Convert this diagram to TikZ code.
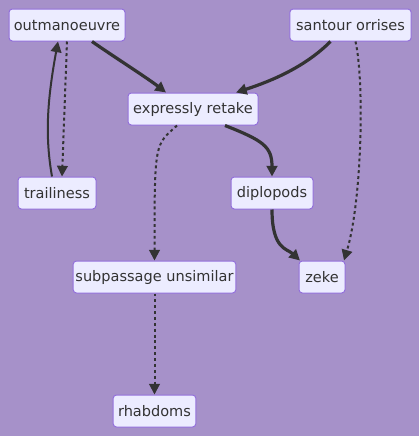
\documentclass[tikz,border=0pt]{standalone}
\usepackage{fontspec}
\setmainfont{DejaVu Sans}
\usetikzlibrary{arrows.meta,calc}
\definecolor{bg}{HTML}{A691C9}
\definecolor{nfill}{HTML}{ECECFF}
\definecolor{nborder}{HTML}{9370DB}
\definecolor{ink}{HTML}{333333}
\begin{document}
\begin{tikzpicture}[x=0.75pt,y=-0.75pt,
  box/.style={draw=nborder,fill=nfill,line width=0.75pt,rounded corners=2.5pt,inner sep=0pt,minimum height=24pt,text=ink,font=\fontsize{10.9}{12}\selectfont},
  tip/.style={-{Triangle[length=8pt,width=8pt]}},
  thickedge/.style={draw=ink,line width=2.4pt,tip},
  normedge/.style={draw=ink,line width=1.5pt,tip},
  dotedge/.style={draw=ink,line width=1.5pt,dash pattern=on 2.2pt off 2.2pt,tip}]
\fill[bg] (0,0) rectangle (419,436);
\useasboundingbox (0,0) rectangle (419,436);
\node[box,minimum width=87pt] (o) at (67,25) {outmanoeuvre};
\node[box,minimum width=91pt] (s) at (350.5,25) {santour orrises};
\node[box,minimum width=97.5pt] (e) at (193,109) {expressly retake};
\node[box,minimum width=58.5pt] (t) at (57,193) {trailiness};
\node[box,minimum width=61.5pt] (d) at (272,193) {diplopods};
\node[box,minimum width=122pt] (p) at (154.5,277) {subpassage unsimilar};
\node[box,minimum width=34.5pt] (z) at (322,277) {zeke};
\node[box,minimum width=62pt] (r) at (154.5,411) {rhabdoms};
% out -> expressly
\draw[thickedge] ($(o.south)+(25,0)$) .. controls ($(o.south)+(45,14)$) and ($(e.north)+(-45,-14)$) .. ($(e.north)+(-27,0)$);
% santour -> expressly
\draw[thickedge] ($(s.south)+(-20,0)$) .. controls ($(s.south)+(-45,25)$) and ($(e.north)+(80,-12)$) .. ($(e.north)+(43,0)$);
% out -> trailiness dotted
\draw[dotedge] (o.south) -- ($(t.north)+(5,0)$);
% trailiness -> out
\draw[normedge] ($(t.north)+(-5,0)$) .. controls ($(t.north)+(-12,-40)$) and ($(o.south)+(-20,60)$) .. ($(o.south)+(-9,0)$);
% expressly -> diplopods
\draw[thickedge] ($(e.south)+(32,0)$) .. controls ($(e.south)+(70,15)$) and ($(d.north)+(0,-30)$) .. (d.north);
% expressly -> subpassage dotted
\draw[dotedge] ($(e.south)+(-16,0)$) .. controls ($(e.south)+(-38,20)$) and ($(p.north)+(0,-120)$) .. (p.north);
% santour -> zeke dotted
\draw[dotedge] ($(s.south)+(5,0)$) .. controls ($(s.south)+(14,40)$) and ($(z.north)+(40,-60)$) .. ($(z.north)+(22,0)$);
% diplopods -> zeke
\draw[thickedge] (d.south) .. controls ($(d.south)+(0,40)$) and ($(z.north)+(-35,-12)$) .. ($(z.north)+(-22,0)$);
% subpassage -> rhabdoms dotted
\draw[dotedge] (p.south) -- (r.north);
\end{tikzpicture}
\end{document}
